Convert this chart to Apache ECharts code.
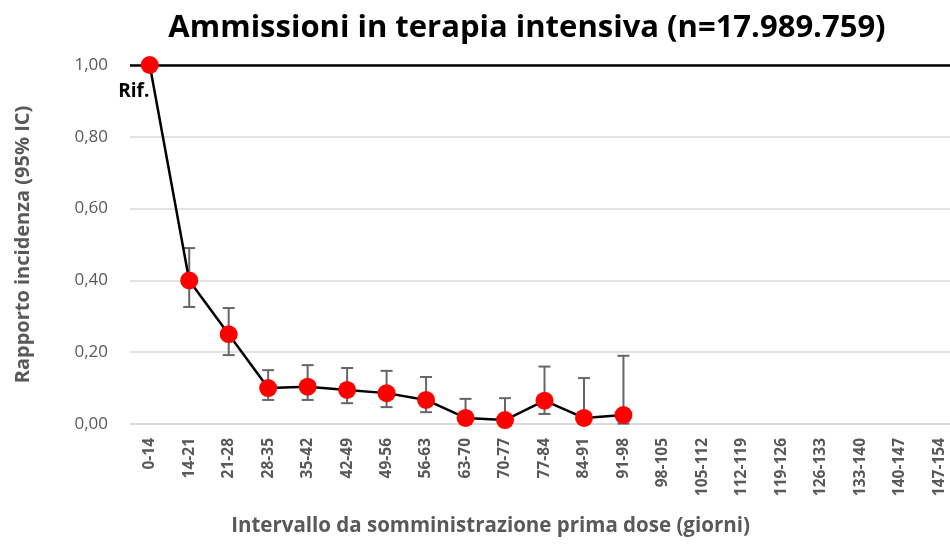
<!DOCTYPE html>
<html><head><meta charset="utf-8">
<script src="https://cdn.jsdelivr.net/npm/echarts@6/dist/echarts.min.js"></script>
<style>html,body{margin:0;padding:0;background:#fff}#c{width:950px;height:544px}</style>
</head><body><div id="c"></div>
<script>
const categories = ['0-14','14-21','21-28','28-35','35-42','42-49','49-56','56-63','63-70','70-77','77-84','84-91','91-98','98-105','105-112','112-119','119-126','126-133','133-140','140-147','147-154'];
const ratio = [1.00,0.40,0.25,0.10,0.104,0.095,0.086,0.067,0.017,0.011,0.065,0.017,0.025];
const ciLow = [null,0.326,0.192,0.067,0.067,0.058,0.047,0.033,0.001,0.001,0.028,0.001,0.001];
const ciHigh = [null,0.49,0.323,0.150,0.164,0.156,0.148,0.131,0.070,0.072,0.16,0.128,0.19];
const yTicks = [0,0.2,0.4,0.6,0.8,1.0];

const font = '"Open Sans", "Liberation Sans", sans-serif';
const errData = [];
for (let i = 0; i < ratio.length; i++) if (ciLow[i] != null) errData.push([i, ciLow[i], ciHigh[i]]);

const chart = echarts.init(document.getElementById('c'));
chart.setOption({
  animation: false,
  title: {text: 'Ammissioni in terapia intensiva (n=17.989.759)', left: 522, top: 8, textAlign: 'center',
    textStyle: {fontFamily: font, fontWeight: 'bold', fontSize: 31, color: '#000'}},
  grid: {left: 130, right: -9, top: 65, bottom: 120, outerBoundsMode: 'none', containLabel: false},
  xAxis: {type: 'category', data: categories, boundaryGap: true,
    name: 'Intervallo da somministrazione prima dose (giorni)', nameLocation: 'middle', nameGap: 92,
    nameTextStyle: {fontFamily: font, fontWeight: 'bold', fontSize: 20.5, color: '#595959', padding: [0,0,0,-108]},
    axisLine: {lineStyle: {color: '#d9d9d9', width: 1.5}}, axisTick: {show: false},
    axisLabel: {rotate: 90, interval: 0, fontFamily: font, fontWeight: 'bold', fontSize: 15.5, color: '#595959', margin: 14},},
  yAxis: {type: 'value', min: 0, max: 1, interval: 0.2,
    name: 'Rapporto incidenza (95% IC)', nameLocation: 'middle', nameGap: 97,
    nameTextStyle: {fontFamily: font, fontWeight: 'bold', fontSize: 20, color: '#595959'},
    axisLine: {show: false}, axisTick: {show: false},
    axisLabel: {fontFamily: font, fontSize: 17, color: '#595959', margin: 22,
      formatter: v => { const t = yTicks.find(x => Math.abs(x - v) < 1e-6); return (t != null ? t : v).toFixed(2).replace('.', ','); }},
    splitLine: {lineStyle: {color: '#d9d9d9', width: 1.5}}},
  series: [
    {type: 'custom', data: errData, z: 3,
      renderItem: (params, api) => {
        const x = api.coord([api.value(0), 0])[0];
        const lo = api.coord([api.value(0), api.value(1)])[1];
        const hi = api.coord([api.value(0), api.value(2)])[1];
        const st = {stroke: '#666', lineWidth: 2};
        return {type: 'group', children: [
          {type: 'line', shape: {x1: x, y1: lo, x2: x, y2: hi}, style: st},
          {type: 'line', shape: {x1: x - 6, y1: lo, x2: x + 6, y2: lo}, style: st},
          {type: 'line', shape: {x1: x - 6, y1: hi, x2: x + 6, y2: hi}, style: st}
        ]};
      }},
    {type: 'line', data: ratio.map((v, i) => i === 0 ? {value: v, label: {show: true, formatter: 'Rif.', position: 'bottom', offset: [-16, 3],
        fontFamily: font, fontWeight: 'bold', fontSize: 19, color: '#000'}} : v),
      symbol: 'circle', symbolSize: 18, z: 5,
      itemStyle: {color: '#ff0000'}, lineStyle: {color: '#000', width: 2.5},
      markLine: {silent: true, symbol: 'none', label: {show: false}, lineStyle: {color: '#000', width: 2.5, type: 'solid'},
        data: [{yAxis: 1}]}}
  ]
});
</script></body></html>
